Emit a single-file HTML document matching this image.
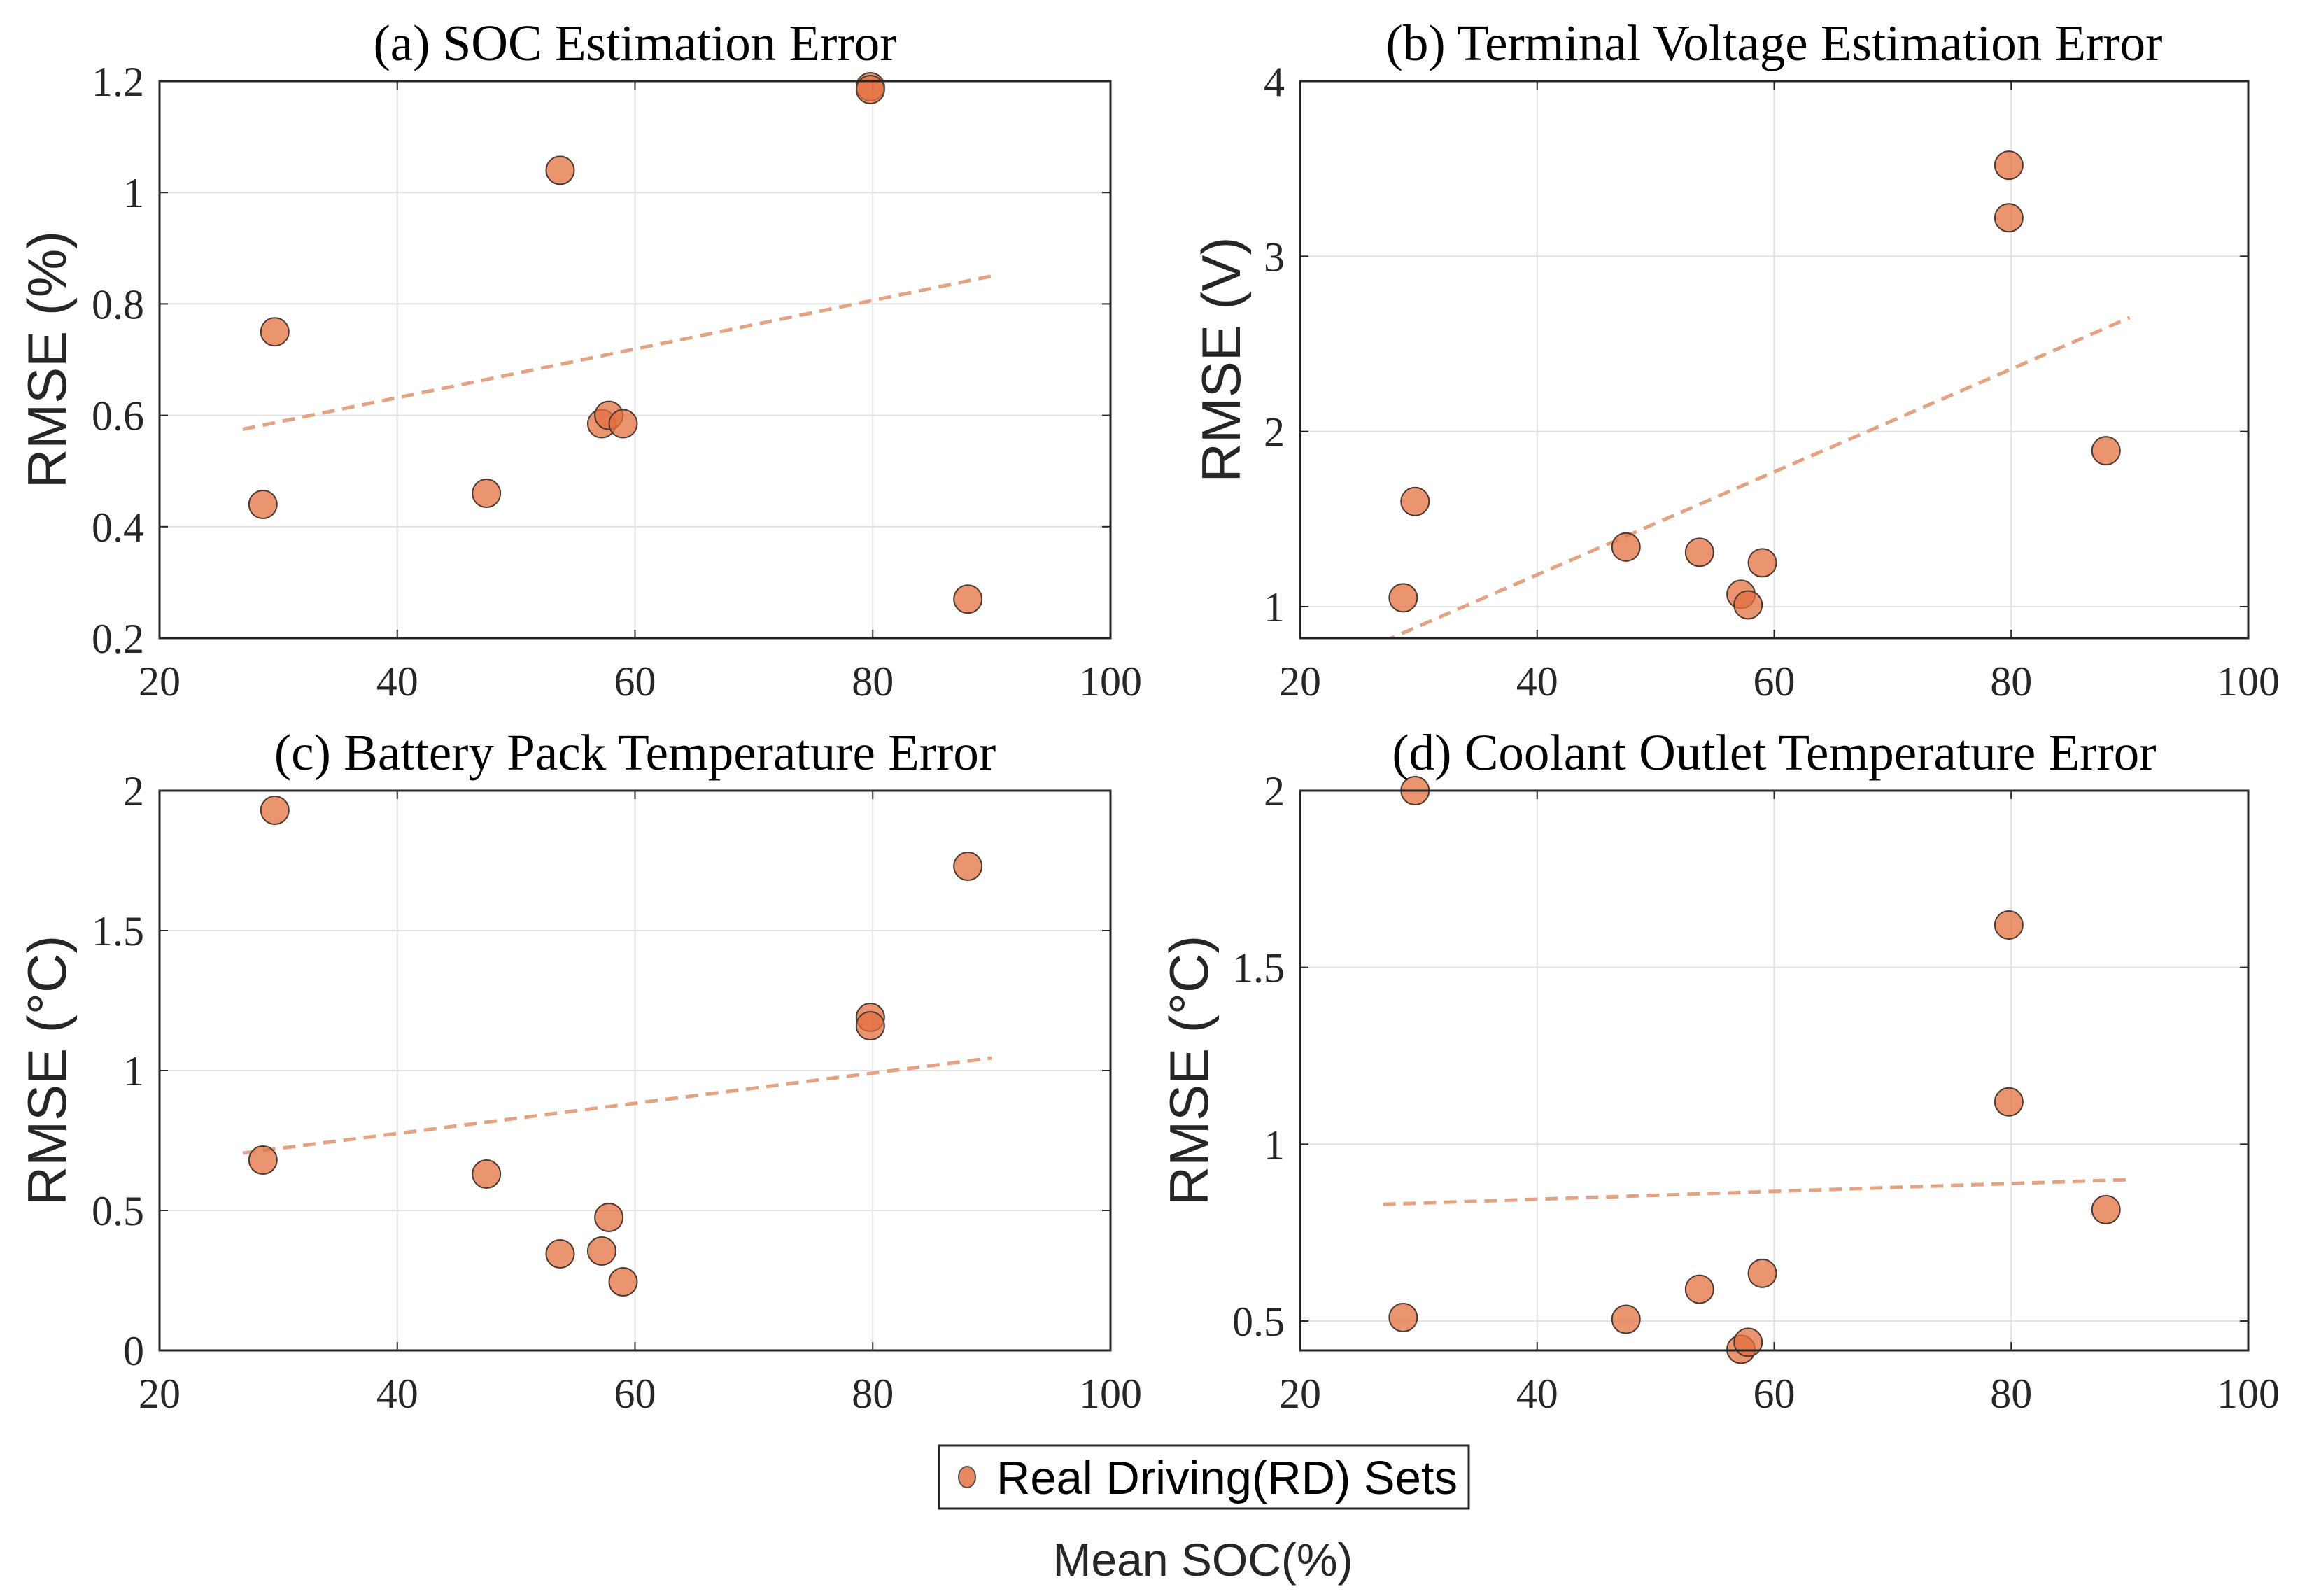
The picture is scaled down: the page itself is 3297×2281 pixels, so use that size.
<!DOCTYPE html>
<html><head><meta charset="utf-8"><style>
html,body{margin:0;padding:0;background:#fff}
svg{display:block}
.tk{font-family:"Liberation Serif",serif;font-size:60px;fill:#262626}
.tt{font-family:"Liberation Serif",serif;font-size:73px;fill:#000}
.yl{font-family:"Liberation Sans",sans-serif;font-size:78px;fill:#262626}
.lg{font-family:"Liberation Sans",sans-serif;font-size:67px;fill:#000}
</style></head><body>
<svg id="fig" width="3297" height="2281" xmlns="http://www.w3.org/2000/svg">
<rect width="3297" height="2281" fill="#fff"/>
<g>
<rect x="1342" y="2066" width="757" height="90" fill="#fff" stroke="#262626" stroke-width="3"/>
<ellipse cx="1382" cy="2111" rx="12" ry="15" fill="#e8885e" stroke="#555" stroke-width="2"/>
<text class="lg" x="1424" y="2135">Real Driving(RD) Sets</text>
</g>
<text class="lg" x="1719" y="2252" text-anchor="middle" style="font-size:66px;fill:#262626">Mean SOC(%)</text>
</svg>
<script>
const xs = [28.7, 29.7, 47.5, 53.7, 57.2, 57.8, 59.0, 79.8, 79.8, 88.0];
const socErr = [0.44, 0.75, 0.46, 1.04, 0.585, 0.60, 0.585, 1.19, 1.185, 0.27];
const voltErr = [1.05, 1.60, 1.34, 1.31, 1.07, 1.01, 1.25, 3.52, 3.22, 1.89];
const packErr = [0.68, 1.93, 0.63, 0.345, 0.355, 0.475, 0.245, 1.19, 1.16, 1.73];
const coolErr = [0.51, 2.00, 0.505, 0.59, 0.42, 0.44, 0.635, 1.62, 1.12, 0.815];
const xTicks = [20, 40, 60, 80, 100];
const socTicks = [0.2, 0.4, 0.6, 0.8, 1, 1.2];
const voltTicks = [1, 2, 3, 4];
const packTicks = [0, 0.5, 1, 1.5, 2];
const coolTicks = [0.5, 1, 1.5, 2];
const trendX = [27, 90];
const socTrend = [0.575, 0.85];
const voltTrend = [0.8, 2.65];
const packTrend = [0.705, 1.045];
const coolTrend = [0.83, 0.90];

const NS = "http://www.w3.org/2000/svg";
const svg = document.getElementById('fig');
function mk(tag, attrs, parent){const e=document.createElementNS(NS,tag);for(const k in attrs)e.setAttribute(k,attrs[k]);(parent||svg).appendChild(e);return e;}

const panels = [
 {id:'a',title:'(a) SOC Estimation Error',ylab:'RMSE (%)',L:228,R:1587,T:116,B:912,ymin:0.2,ymax:1.2,ticks:socTicks,vals:socErr,trend:socTrend,ylx:67},
 {id:'b',title:'(b) Terminal Voltage Estimation Error',ylab:'RMSE (V)',L:1858,R:3213,T:116,B:912,ymin:0.82,ymax:4,ticks:voltTicks,vals:voltErr,trend:voltTrend,ylx:1745},
 {id:'c',title:'(c) Battery Pack Temperature Error',ylab:'RMSE (°C)',L:228,R:1587,T:1130,B:1930,ymin:0,ymax:2,ticks:packTicks,vals:packErr,trend:packTrend,ylx:67},
 {id:'d',title:'(d) Coolant Outlet Temperature Error',ylab:'RMSE (°C)',L:1858,R:3213,T:1130,B:1930,ymin:0.417,ymax:2,ticks:coolTicks,vals:coolErr,trend:coolTrend,ylx:1699}
];
panels.forEach(p=>{
 const g = mk('g',{});
 
 
 const sx = v => p.L + (v-20)/80*(p.R-p.L);
 const sy = v => p.B - (v-p.ymin)/(p.ymax-p.ymin)*(p.B-p.T);
 const clip = mk('clipPath',{id:'clip'+p.id},g);
 mk('rect',{x:p.L,y:p.T,width:p.R-p.L,height:p.B-p.T},clip);
 xTicks.forEach(t=>{
  const x=sx(t);
  const gl=mk('line',{x1:x,x2:x,y1:p.T,y2:p.B,stroke:'#e2e2e2','stroke-width':2},g);
  
  
  mk('line',{x1:x,x2:x,y1:p.B,y2:p.B-12,stroke:'#262626','stroke-width':2},g);
  mk('line',{x1:x,x2:x,y1:p.T,y2:p.T+12,stroke:'#262626','stroke-width':2},g);
  const tx=mk('text',{x:x,y:p.B+82,'text-anchor':'middle',class:'tk'},g);
  tx.textContent=t;
  
  
 });
 p.ticks.forEach(t=>{
  const y=sy(t);
  const gl=mk('line',{x1:p.L,x2:p.R,y1:y,y2:y,stroke:'#e2e2e2','stroke-width':2},g);
  
  
  mk('line',{x1:p.L,x2:p.L+12,y1:y,y2:y,stroke:'#262626','stroke-width':2},g);
  mk('line',{x1:p.R,x2:p.R-12,y1:y,y2:y,stroke:'#262626','stroke-width':2},g);
  const tx=mk('text',{x:p.L-22,y:y+21,'text-anchor':'end',class:'tk'},g);
  tx.textContent=t;
  
  
 });
 const tl=mk('line',{x1:sx(trendX[0]),y1:sy(p.trend[0]),x2:sx(trendX[1]),y2:sy(p.trend[1]),stroke:'#e3a383','stroke-width':5,'stroke-dasharray':'18 11','clip-path':'url(#clip'+p.id+')'},g);
 
 
 xs.forEach((xv,i)=>{
  const c=mk('circle',{cx:sx(xv),cy:sy(p.vals[i]),r:20,fill:'rgba(227,112,64,0.75)',stroke:'#4a3a32','stroke-width':2},g);
  
  
 });
 const box=mk('rect',{x:p.L,y:p.T,width:p.R-p.L,height:p.B-p.T,fill:'none',stroke:'#262626','stroke-width':3},g);
 
 
 const ti=mk('text',{x:(p.L+p.R)/2,y:p.T-30,'text-anchor':'middle',class:'tt'},g);
 ti.textContent=p.title;
 
 
 const cy=(p.T+p.B)/2;
 const yl=mk('text',{x:p.ylx,y:cy,'text-anchor':'middle','dominant-baseline':'central',class:'yl',transform:'rotate(-90 '+p.ylx+' '+cy+')'},g);
 yl.textContent=p.ylab;
 
 
});
</script>
</body></html>
